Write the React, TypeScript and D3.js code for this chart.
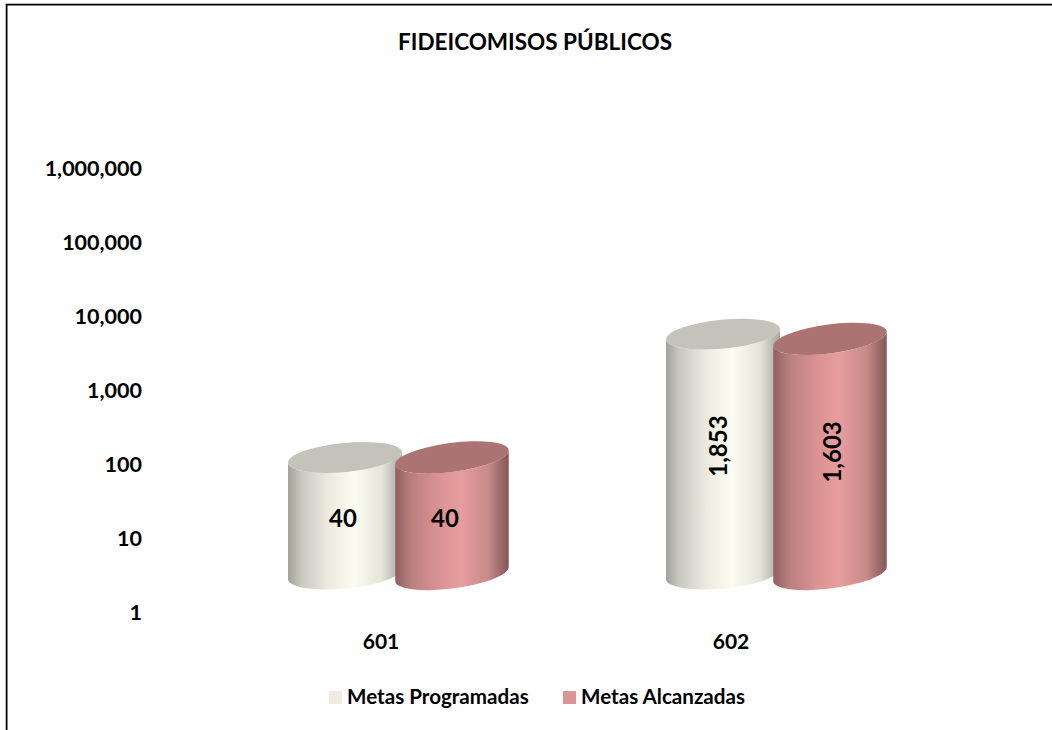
import React from 'react';
import * as d3 from 'd3';

const categories = ['601', '602'];
const seriesNames = ['Metas Programadas', 'Metas Alcanzadas'];
const programadas = [40, 1853];
const alcanzadas = [40, 1603];
const tickValues = [1, 10, 100, 1000, 10000, 100000, 1000000];
const title = 'FIDEICOMISOS PÚBLICOS';

const W = 1052, H = 730;
const FONT = 'Lato, Carlito, sans-serif';
const y = d3.scaleLog().domain([1, 1e6]).range([576, 132]);
const yLabel = d3.scaleLog().domain([1, 1e6]).range([612, 168]);
const x0 = d3.scaleBand().domain(categories).range([210, 966]);
const xCat = d3.scalePoint().domain(categories).range([381, 731]);
const centers = [-54, 53];
const tilt = [-5.5, -7.5];
const fmt = d3.format(',');
const RX = 57.2, RY = 14.5;

function Cylinder({ cx, top, base, rot, gid, cap }: any) {
  const t = rot * Math.PI / 180;
  const hx = Math.sqrt(RX * RX * Math.cos(t) ** 2 + RY * RY * Math.sin(t) ** 2);
  const off = ((RX * RX - RY * RY) * Math.sin(t) * Math.cos(t)) / hx;
  const body = `M${cx - hx},${top - off} L${cx - hx},${base - off} A${RX},${RY} ${rot} 0 0 ${cx + hx},${base + off} L${cx + hx},${top + off} A${RX},${RY} ${rot} 0 1 ${cx - hx},${top - off} Z`;
  return (
    <g>
      <path d={body} fill={`url(#${gid})`} />
      <ellipse cx={cx} cy={top} rx={RX} ry={RY} transform={`rotate(${rot} ${cx} ${top})`} fill={cap} />
    </g>
  );
}

export default function App() {
  const series = [programadas, alcanzadas];
  const bw = x0.bandwidth();
  return (
    <svg width={W} height={H} style={{ position: 'absolute', left: 0, top: 0, display: 'block' }} fontFamily={FONT} fontWeight={700}>
      <defs>
        <linearGradient id="g0">
          <stop offset="0" stopColor="#a0a199" />
          <stop offset="0.12" stopColor="#c9c9bf" />
          <stop offset="0.35" stopColor="#eceadf" />
          <stop offset="0.58" stopColor="#fdfcf0" />
          <stop offset="0.82" stopColor="#e6e5d9" />
          <stop offset="1" stopColor="#a4a79d" />
        </linearGradient>
        <linearGradient id="g1">
          <stop offset="0" stopColor="#8f5f5f" />
          <stop offset="0.14" stopColor="#b97f7f" />
          <stop offset="0.36" stopColor="#d89192" />
          <stop offset="0.58" stopColor="#e79d9e" />
          <stop offset="0.82" stopColor="#c88a8a" />
          <stop offset="1" stopColor="#835656" />
        </linearGradient>
      </defs>
      <rect width={W} height={H} fill="#fff" />
      <path d={`M5.5,${H} V3.5 H${W}`} fill="none" stroke="#b8b8b8" strokeWidth={1} />
      <path d={`M6.75,${H} V4.75 H${W}`} fill="none" stroke="#000" strokeWidth={1.5} />
      <text x={535} y={50} textAnchor="middle" fontSize={22.5}>{title}</text>
      {tickValues.map(v => (
        <text key={v} x={142} y={yLabel(v) + 8} textAnchor="end" fontSize={21.5}>{fmt(v)}</text>
      ))}
      {categories.map(c => (
        <text key={c} x={xCat(c)} y={649} textAnchor="middle" fontSize={21}>{c}</text>
      ))}
      {categories.map((c, i) => [0, 1].map(s => {
        const cx = x0(c)! + bw / 2 + centers[s];
        return (
          <Cylinder key={c + s} cx={cx} top={y(series[s][i])} base={y(1) - 2} rot={tilt[s]}
            gid={`g${s}`} cap={s === 0 ? '#c4c3ba' : '#ab7473'} />
        );
      }))}
      {categories.map((c, i) => [0, 1].map(s => {
        const cx = x0(c)! + bw / 2 + centers[s];
        const v = series[s][i];
        const cy = (y(v) + y(1)) / 2;
        return v > 100
          ? <text key={c + s} transform={`translate(${cx + (s === 0 ? 4 : 11)},${cy - (s === 0 ? 9 : 5.5)}) rotate(-90)`} textAnchor="middle" fontSize={24}>{fmt(v)}</text>
          : <text key={c + s} x={cx + (s === 0 ? -2 : -7)} y={527} textAnchor="middle" fontSize={24}>{fmt(v)}</text>;
      }))}
      <rect x={329} y={691} width={13} height={13} fill="#eeece1" />
      <text x={347} y={703.5} fontSize={20.6}>{seriesNames[0]}</text>
      <rect x={563} y={691} width={13} height={13} fill="#d99594" />
      <text x={581} y={703.5} fontSize={20.6}>{seriesNames[1]}</text>
    </svg>
  );
}
